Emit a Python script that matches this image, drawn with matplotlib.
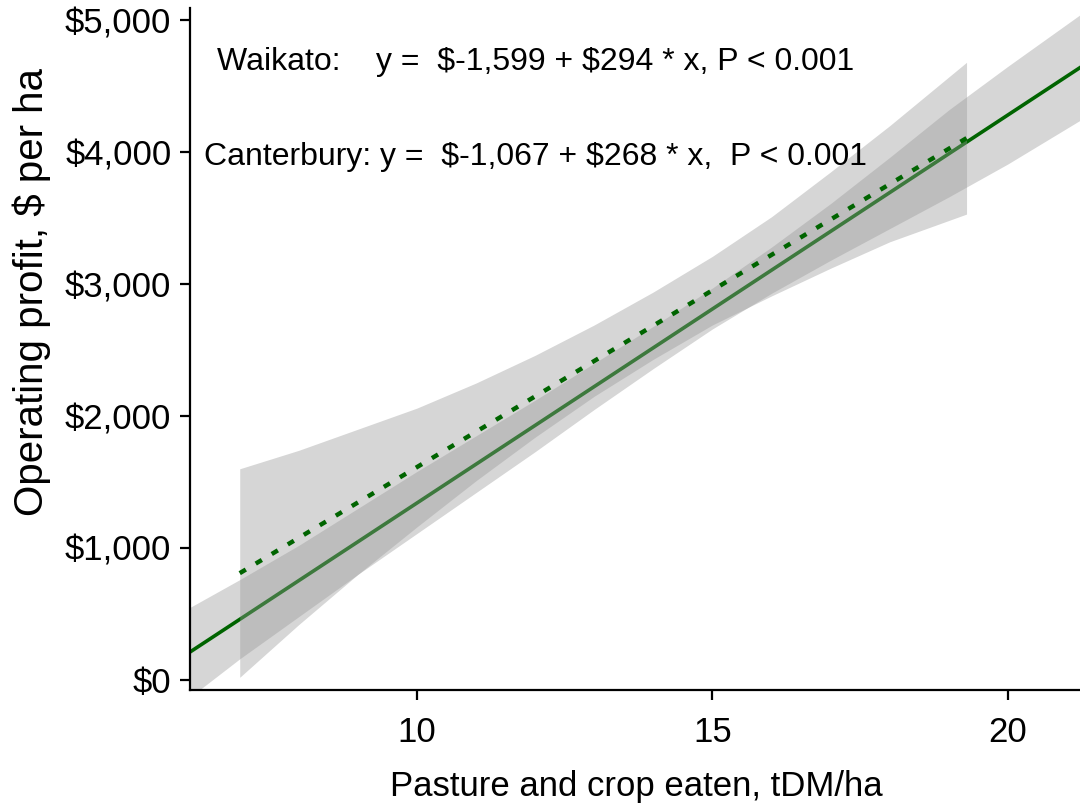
import numpy as np
import matplotlib
matplotlib.use('Agg')
import matplotlib.pyplot as plt
from matplotlib.ticker import FuncFormatter

plt.rcParams['font.family'] = ['Liberation Sans', 'DejaVu Sans']
plt.rcParams['text.parse_math'] = False

# fitted lines (coefficients from the annotations) and their x ranges
waikato_coef = (-1599, 294)
canterbury_coef = (-1067, 268)

# confidence band edges
waik_x = [6.16, 7, 8, 9, 10, 11, 12, 13, 14, 15, 16, 17, 18, 19, 20, 21.22]
waik_hi = [550, 760, 1020, 1300, 1580, 1850, 2120, 2400, 2680, 2970, 3280, 3610, 3960, 4320, 4650, 5040]
waik_lo = [-130, 160, 480, 800, 1110, 1420, 1730, 2050, 2360, 2660, 2930, 3180, 3420, 3660, 3910, 4240]

cant_x = [7, 8, 9, 10, 11, 12, 13, 14, 15, 16, 17, 18, 19.3]
cant_hi = [1600, 1740, 1900, 2060, 2250, 2460, 2690, 2940, 3210, 3510, 3850, 4200, 4680]
cant_lo = [20, 420, 800, 1160, 1510, 1840, 2150, 2430, 2690, 2910, 3120, 3320, 3530]

waik_label = 'Waikato:    y =  $-1,599 + $294 * x, P < 0.001'
cant_label = 'Canterbury: y =  $-1,067 + $268 * x,  P < 0.001'

fig = plt.figure(figsize=(10.8, 8.07), dpi=100)
ax = fig.add_axes([0.176, 0.145, 0.824, 0.845])

band = '#999999'
green = '#006400'

# Waikato: ribbon then line
ax.fill_between(waik_x, waik_lo, waik_hi, color=band, alpha=0.4, lw=0, zorder=1)
wx = np.array([waik_x[0], waik_x[-1]])
ax.plot(wx, waikato_coef[0] + waikato_coef[1] * wx, color=green, lw=2.6, zorder=2)

# Canterbury: ribbon then dotted line
ax.fill_between(cant_x, cant_lo, cant_hi, color=band, alpha=0.4, lw=0, zorder=3)
cx = np.array([cant_x[0], cant_x[-1]])
ax.plot(cx, canterbury_coef[0] + canterbury_coef[1] * cx, color=green, lw=3.2,
        linestyle=(0, (1.6, 2.6)), dash_capstyle='butt', zorder=4)

ax.text(12, 4682, waik_label, ha='center', va='center', fontsize=23)
ax.text(12, 3962, cant_label, ha='center', va='center', fontsize=23)

ax.set_xlim(6.16, 21.22)
ax.set_ylim(-76, 5091)
ax.set_xticks([10, 15, 20])
ax.set_yticks([0, 1000, 2000, 3000, 4000, 5000])
ax.yaxis.set_major_formatter(FuncFormatter(lambda v, p: '${:,.0f}'.format(v)))

for s in ['top', 'right']:
    ax.spines[s].set_visible(False)
for s in ['left', 'bottom']:
    ax.spines[s].set_linewidth(1.6)
ax.tick_params(labelsize=25, length=7.5, width=1.6, color='black')
ax.tick_params(axis='y', pad=6)
ax.tick_params(axis='x', pad=11)

ax.set_xlabel('Pasture and crop eaten, tDM/ha', fontsize=25)
ax.set_ylabel('Operating profit, $ per ha', fontsize=29)
ax.xaxis.set_label_coords(0.501, -0.117)
ax.yaxis.set_label_coords(-0.156, 0.584)

fig.savefig('out.png', dpi=100)
